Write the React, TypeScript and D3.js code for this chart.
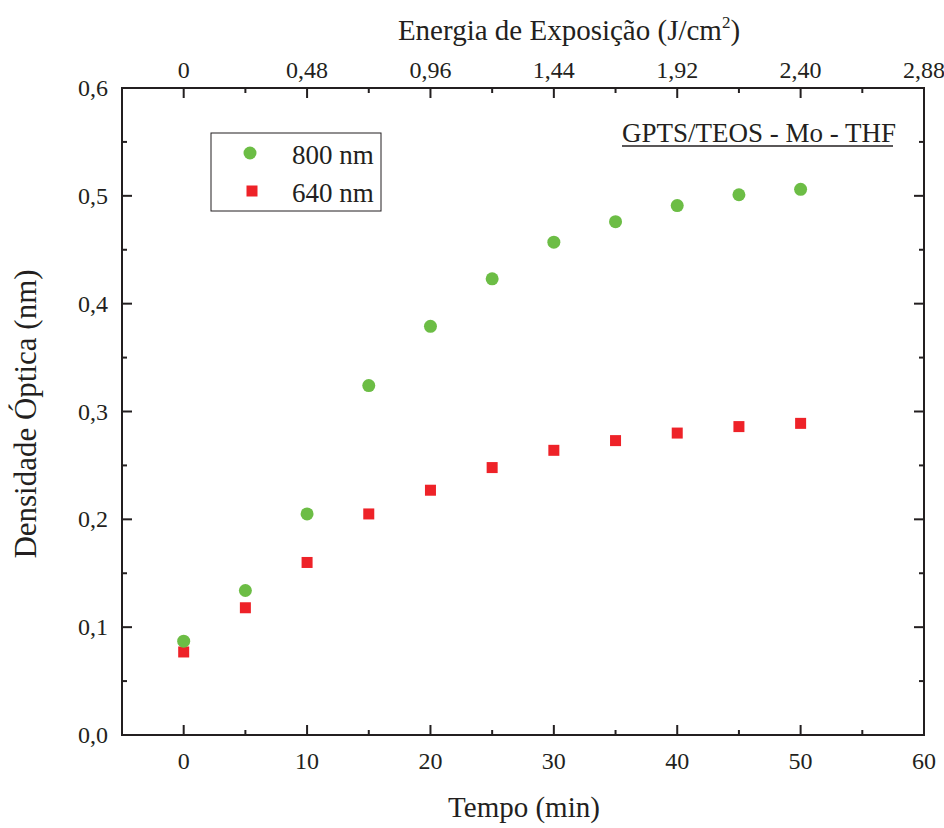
import React from "react";
import * as d3 from "d3";

const timeMin = [0, 5, 10, 15, 20, 25, 30, 35, 40, 45, 50];
const od800 = [0.087, 0.134, 0.205, 0.324, 0.379, 0.423, 0.457, 0.476, 0.491, 0.501, 0.506];
const od640 = [0.077, 0.118, 0.16, 0.205, 0.227, 0.248, 0.264, 0.273, 0.28, 0.286, 0.289];
const bottomTicks = [0, 10, 20, 30, 40, 50, 60];
const topTickLabels = ["0", "0,48", "0,96", "1,44", "1,92", "2,40", "2,88"];
const yTicks = [0, 0.1, 0.2, 0.3, 0.4, 0.5, 0.6];

const W = 944, H = 828;
const M = { left: 122, right: 924, top: 88, bottom: 735 };
const GREEN = "#6cbd45";
const RED = "#ee2228";
const INK = "#231f20";
const FONT = "'Liberation Serif', 'Times New Roman', serif";

export default function App() {
  const x = d3.scaleLinear().domain([-5, 60]).range([M.left, M.right]);
  const y = d3.scaleLinear().domain([0, 0.6]).range([M.bottom, M.top]);
  const minorX = d3.range(-5, 61, 5).filter((v) => v % 10 !== 0 && v > -5);
  const minorY = d3.range(0.05, 0.6, 0.1);
  const fmtY = (v: number) => v.toFixed(1).replace(".", ",");
  const TL = 10, TS = 5;
  const sq = 11;
  return (
    <svg width={W} height={H} style={{ position: "absolute", left: 0, top: 0, background: "#fff" }} fontFamily={FONT}>
      <rect x={0} y={0} width={W} height={H} fill="#fff" />
      <rect x={M.left} y={M.top} width={M.right - M.left} height={M.bottom - M.top} fill="none" stroke={INK} strokeWidth={2} />
      {bottomTicks.map((v, i) => (
        <g key={"bx" + v}>
          <line x1={x(v)} x2={x(v)} y1={M.bottom} y2={M.bottom - TL} stroke={INK} strokeWidth={2} />
          <line x1={x(v)} x2={x(v)} y1={M.top} y2={M.top + TL} stroke={INK} strokeWidth={2} />
          <text x={x(v)} y={769} fontSize={24} textAnchor="middle" fill={INK}>{v}</text>
          <text x={x(v)} y={78} fontSize={24} textAnchor="middle" fill={INK}>{topTickLabels[i]}</text>
        </g>
      ))}
      {minorX.map((v) => (
        <g key={"mx" + v}>
          <line x1={x(v)} x2={x(v)} y1={M.bottom} y2={M.bottom - TS} stroke={INK} strokeWidth={2} />
          <line x1={x(v)} x2={x(v)} y1={M.top} y2={M.top + TS} stroke={INK} strokeWidth={2} />
        </g>
      ))}
      {yTicks.map((v) => (
        <g key={"y" + v}>
          <line x1={M.left} x2={M.left + TL} y1={y(v)} y2={y(v)} stroke={INK} strokeWidth={2} />
          <line x1={M.right} x2={M.right - TL} y1={y(v)} y2={y(v)} stroke={INK} strokeWidth={2} />
          <text x={108} y={y(v) + 8} fontSize={24} textAnchor="end" fill={INK}>{fmtY(v)}</text>
        </g>
      ))}
      {minorY.map((v) => (
        <g key={"my" + v}>
          <line x1={M.left} x2={M.left + TS} y1={y(v)} y2={y(v)} stroke={INK} strokeWidth={2} />
          <line x1={M.right} x2={M.right - TS} y1={y(v)} y2={y(v)} stroke={INK} strokeWidth={2} />
        </g>
      ))}
      <text x={524} y={817} fontSize={29} textAnchor="middle" fill={INK}>Tempo (min)</text>
      <text x={569} y={40} fontSize={29} textAnchor="middle" fill={INK}>
        Energia de Exposição (J/cm<tspan dy={-12} fontSize={17}>2</tspan><tspan dy={12}>)</tspan>
      </text>
      <text transform={`translate(36,414) rotate(-90)`} fontSize={31} textAnchor="middle" fill={INK}>
        Densidade Óptica (nm)
      </text>
      {timeMin.map((t, i) => (
        <rect key={"r" + t} x={x(t) - sq / 2} y={y(od640[i]) - sq / 2} width={sq} height={sq} fill={RED} />
      ))}
      {timeMin.map((t, i) => (
        <circle key={"c" + t} cx={x(t)} cy={y(od800[i])} r={6.5} fill={GREEN} />
      ))}
      <rect x={211} y={133} width={170} height={78} fill="#fff" stroke={INK} strokeWidth={1} />
      <circle cx={250} cy={153} r={6.5} fill={GREEN} />
      <text x={292} y={164} fontSize={27} fill={INK}>800 nm</text>
      <rect x={252 - sq / 2} y={191 - sq / 2} width={sq} height={sq} fill={RED} />
      <text x={292} y={202} fontSize={27} fill={INK}>640 nm</text>
      <text x={622} y={142} fontSize={27} fill={INK}>GPTS/TEOS - Mo - THF</text>
      <line x1={622} x2={893} y1={146} y2={146} stroke={INK} strokeWidth={1.3} />
    </svg>
  );
}
